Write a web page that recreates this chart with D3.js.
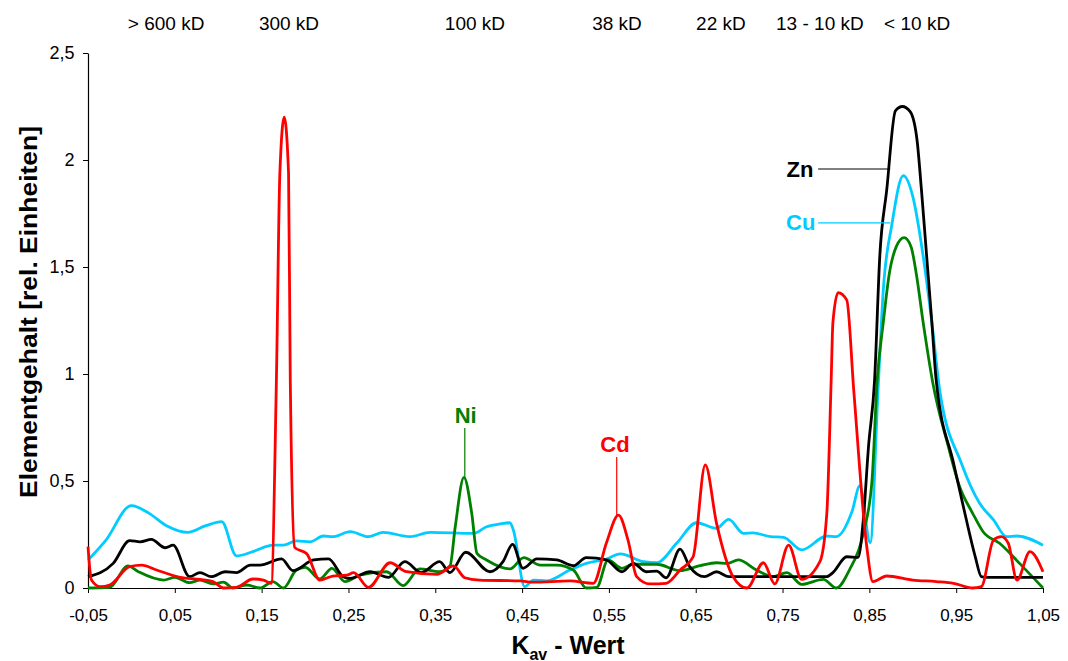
<!DOCTYPE html>
<html>
<head>
<meta charset="UTF-8">
<script src="https://d3js.org/d3.v7.min.js"></script>
<style>
  body { margin: 0; background: #fff; }
  svg { font-family: "Liberation Sans", Arial, sans-serif; }
</style>
</head>
<body>
<div id="viz"></div>
<script>
// K_av values and element contents
const xTicks = [-0.05, 0.05, 0.15, 0.25, 0.35, 0.45, 0.55, 0.65, 0.75, 0.85, 0.95, 1.05];
const yTicks = [0, 0.5, 1, 1.5, 2, 2.5];
const sizeLabels = ["> 600 kD", "300 kD", "100 kD", "38 kD", "22 kD", "13 - 10 kD", "< 10 kD"];
const sizePos = [0.04, 0.1815, 0.3957, 0.5593, 0.679, 0.793, 0.905];

const cu = [[-0.05,0.13],[-0.03,0.22],[0,0.385],[0.02,0.35],[0.041,0.29],[0.065,0.26],[0.085,0.29],[0.104,0.31],[0.121,0.15],[0.14,0.17],[0.163,0.2],[0.175,0.2],[0.19,0.22],[0.206,0.216],[0.221,0.243],[0.232,0.24],[0.252,0.263],[0.273,0.24],[0.29,0.26],[0.321,0.24],[0.344,0.26],[0.394,0.255],[0.409,0.286],[0.425,0.3],[0.436,0.305],[0.44,0.27],[0.453,0.006],[0.463,0.037],[0.478,0.033],[0.505,0.084],[0.524,0.115],[0.547,0.135],[0.563,0.159],[0.59,0.123],[0.605,0.118],[0.628,0.209],[0.651,0.305],[0.674,0.279],[0.688,0.321],[0.705,0.255],[0.716,0.258],[0.736,0.24],[0.751,0.237],[0.772,0.178],[0.801,0.243],[0.812,0.24],[0.83,0.357],[0.839,0.477],[0.851,0.212],[0.86,0.925],[0.866,1.39],[0.876,1.7],[0.889,1.927],[0.9,1.83],[0.912,1.55],[0.922,1.24],[0.931,0.925],[0.956,0.583],[0.977,0.396],[0.993,0.318],[1.008,0.24],[1.02,0.243],[1.05,0.2]];

const zn = [[-0.05,0.053],[-0.021,0.115],[-0.002,0.221],[0.01,0.216],[0.023,0.227],[0.039,0.188],[0.048,0.2],[0.067,0.053],[0.079,0.072],[0.092,0.053],[0.108,0.076],[0.121,0.072],[0.137,0.107],[0.148,0.107],[0.173,0.136],[0.186,0.081],[0.21,0.131],[0.227,0.136],[0.244,0.053],[0.252,0.045],[0.275,0.076],[0.296,0.05],[0.315,0.123],[0.334,0.072],[0.355,0.123],[0.367,0.072],[0.385,0.167],[0.413,0.076],[0.428,0.123],[0.439,0.204],[0.451,0.092],[0.467,0.136],[0.49,0.131],[0.509,0.104],[0.524,0.142],[0.547,0.131],[0.565,0.076],[0.578,0.115],[0.593,0.076],[0.605,0.079],[0.616,0.048],[0.632,0.182],[0.643,0.1],[0.66,0.053],[0.674,0.076],[0.688,0.053],[0.75,0.053],[0.801,0.053],[0.808,0.072],[0.824,0.146],[0.837,0.143],[0.843,0.318],[0.849,0.66],[0.856,0.97],[0.862,1.55],[0.87,1.86],[0.88,2.23],[0.888,2.25],[0.897,2.226],[0.905,2.09],[0.91,1.86],[0.916,1.55],[0.922,1.24],[0.927,0.97],[0.947,0.583],[0.96,0.349],[0.972,0.146],[0.979,0.053],[0.984,0.05],[1.05,0.05]];

const cd = [[-0.05,0.193],[-0.046,0.037],[-0.036,0.006],[-0.025,0.014],[-0.002,0.1],[0.012,0.107],[0.029,0.084],[0.056,0.05],[0.079,0.04],[0.094,0.03],[0.106,0.0],[0.121,0.003],[0.14,0.042],[0.152,0.037],[0.161,0.022],[0.167,0.97],[0.171,1.94],[0.176,2.2],[0.181,1.94],[0.183,0.97],[0.188,0.19],[0.202,0.16],[0.217,0.037],[0.232,0.056],[0.248,0.06],[0.256,0.072],[0.273,0.003],[0.298,0.118],[0.317,0.076],[0.352,0.064],[0.371,0.103],[0.384,0.048],[0.401,0.037],[0.448,0.033],[0.463,0.027],[0.505,0.033],[0.532,0.022],[0.547,0.209],[0.561,0.341],[0.572,0.224],[0.582,0.053],[0.597,0.019],[0.616,0.022],[0.632,0.084],[0.647,0.146],[0.661,0.575],[0.674,0.302],[0.693,0.053],[0.709,0.0],[0.728,0.118],[0.741,0.019],[0.757,0.2],[0.772,0.04],[0.793,0.123],[0.801,0.349],[0.806,0.97],[0.808,1.24],[0.814,1.38],[0.824,1.345],[0.832,0.925],[0.847,0.193],[0.854,0.03],[0.87,0.056],[0.9,0.037],[0.927,0.03],[0.947,0.022],[0.969,0.0],[0.979,0.006],[0.993,0.224],[1.002,0.24],[1.01,0.209],[1.02,0.037],[1.035,0.17],[1.05,0.076]];

const ni = [[-0.05,0.0],[-0.025,0.003],[-0.004,0.103],[0.008,0.076],[0.037,0.037],[0.05,0.05],[0.067,0.025],[0.079,0.037],[0.094,0.019],[0.106,0.027],[0.117,0.0],[0.133,0.014],[0.148,0.0],[0.163,0.03],[0.175,0.0],[0.19,0.084],[0.2,0.097],[0.217,0.042],[0.231,0.092],[0.246,0.03],[0.263,0.06],[0.294,0.076],[0.313,0.011],[0.332,0.089],[0.355,0.076],[0.367,0.104],[0.373,0.286],[0.383,0.517],[0.392,0.349],[0.398,0.162],[0.409,0.131],[0.436,0.089],[0.452,0.142],[0.471,0.107],[0.49,0.107],[0.509,0.084],[0.524,0.0],[0.536,0.003],[0.549,0.131],[0.565,0.092],[0.578,0.111],[0.605,0.111],[0.632,0.081],[0.655,0.104],[0.674,0.118],[0.686,0.115],[0.699,0.131],[0.72,0.084],[0.739,0.053],[0.755,0.072],[0.772,0.017],[0.797,0.04],[0.812,0.0],[0.827,0.084],[0.843,0.255],[0.853,0.5],[0.859,0.97],[0.866,1.24],[0.873,1.47],[0.881,1.595],[0.89,1.637],[0.898,1.595],[0.904,1.47],[0.912,1.24],[0.923,0.96],[0.941,0.66],[0.954,0.473],[0.969,0.349],[0.981,0.263],[1.0,0.209],[1.023,0.115],[1.05,0.0]];

const series = [
  {name: "Cu", data: cu, color: "#00ccff"},
  {name: "Ni", data: ni, color: "#008000"},
  {name: "Zn", data: zn, color: "#000000"},
  {name: "Cd", data: cd, color: "#ff0000"}
];

const width = 1068, height = 661;
const margin = {top: 53, right: 25, bottom: 73, left: 88};

const svg = d3.select("#viz").append("svg")
    .attr("width", width)
    .attr("height", height);

const x = d3.scaleLinear().domain([-0.05, 1.05]).range([margin.left, width - margin.right]);
const y = d3.scaleLinear().domain([0, 2.5]).range([height - margin.bottom, margin.top]);

const fmt = d => String(d).replace(".", ",");

// axes
const xAxis = svg.append("g")
    .attr("transform", `translate(0,${y(0)})`)
    .call(d3.axisBottom(x).tickValues(xTicks).tickFormat(d => d.toFixed(2).replace(".", ",")).tickSize(5).tickSizeOuter(0));
const yAxis = svg.append("g")
    .attr("transform", `translate(${x(-0.05)},0)`)
    .call(d3.axisLeft(y).tickValues(yTicks).tickFormat(fmt).tickSize(5).tickSizeOuter(0));

[xAxis, yAxis].forEach(a => {
  a.select(".domain").attr("stroke", "#000").attr("stroke-width", 1.2);
  a.selectAll(".tick line").attr("stroke", "#000");
  a.selectAll("text").attr("fill", "#000")
    .attr("font-family", "Liberation Sans, Arial, sans-serif");
});
xAxis.selectAll("text").attr("font-size", 17).attr("dy", "1.45em");
yAxis.selectAll("text").attr("font-size", 18).attr("dx", "-0.3em");

// curves
const line = d3.line()
    .x(d => x(d[0]))
    .y(d => y(d[1]))
    .curve(d3.curveMonotoneX);

svg.append("g").selectAll("path")
  .data(series)
  .join("path")
    .attr("fill", "none")
    .attr("stroke", d => d.color)
    .attr("stroke-width", 2.8)
    .attr("stroke-linejoin", "round")
    .attr("d", d => line(d.data));

// labels with leader lines (text at baseline)
const labels = [
  {t: "Zn", c: "#000000", tx: 0.770, ty: 1.921, x1: 0.791, y1: 1.958, x2: 0.874, y2: 1.958},
  {t: "Cu", c: "#00ccff", tx: 0.771, ty: 1.673, x1: 0.791, y1: 1.706, x2: 0.874, y2: 1.706},
  {t: "Ni", c: "#008000", tx: 0.385, ty: 0.771, x1: 0.384, y1: 0.748, x2: 0.384, y2: 0.514},
  {t: "Cd", c: "#ff0000", tx: 0.557, ty: 0.636, x1: 0.559, y1: 0.612, x2: 0.559, y2: 0.341}
];
const lab = svg.append("g");
labels.forEach(l => {
  lab.append("line")
    .attr("x1", x(l.x1)).attr("y1", y(l.y1))
    .attr("x2", x(l.x2)).attr("y2", y(l.y2))
    .attr("stroke", l.c).attr("stroke-width", 1.2);
  lab.append("text")
    .attr("x", x(l.tx)).attr("y", y(l.ty))
    .attr("text-anchor", "middle")
    .attr("font-size", 22).attr("font-weight", "bold")
    .attr("fill", l.c)
    .text(l.t);
});

// molecular size labels on top
svg.append("g").selectAll("text")
  .data(sizeLabels)
  .join("text")
    .attr("x", (d, i) => x(sizePos[i]))
    .attr("y", 30)
    .attr("text-anchor", "middle")
    .attr("font-size", 19)
    .text(d => d);

// axis titles
const xt = svg.append("text")
    .attr("x", 568).attr("y", 654)
    .attr("text-anchor", "middle")
    .attr("font-size", 25).attr("font-weight", "bold");
xt.append("tspan").text("K");
xt.append("tspan").attr("font-size", 16).attr("dy", 6).text("av");
xt.append("tspan").attr("dy", -6).text(" - Wert");

svg.append("text")
    .attr("transform", "translate(37,312) rotate(-90)")
    .attr("text-anchor", "middle")
    .attr("font-size", 24).attr("font-weight", "bold")
    .attr("textLength", 372)
    .attr("lengthAdjust", "spacingAndGlyphs")
    .text("Elementgehalt [rel. Einheiten]");
</script>
</body>
</html>
